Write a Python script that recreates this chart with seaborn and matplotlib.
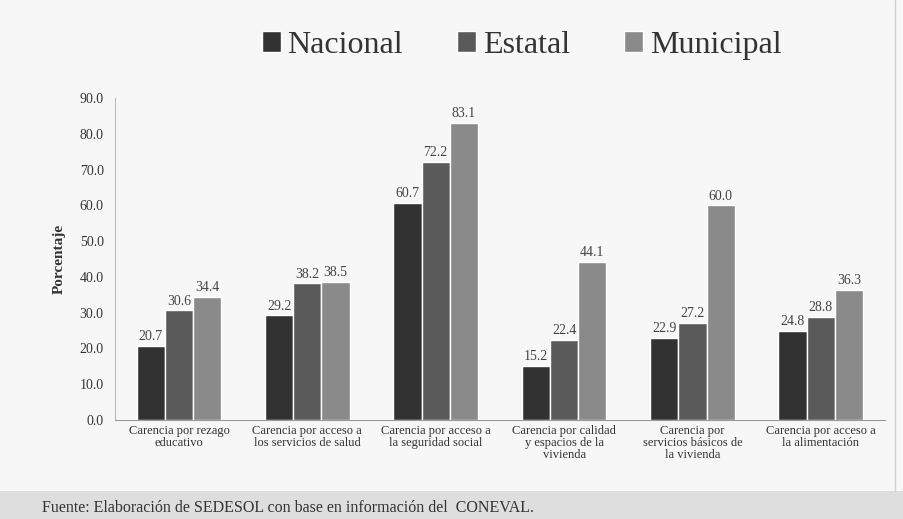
import numpy as np
import pandas as pd
import seaborn as sns
import matplotlib.pyplot as plt
from matplotlib.patches import Rectangle

categorias = [
    "Carencia por rezago\neducativo",
    "Carencia por acceso a\nlos servicios de salud",
    "Carencia por acceso a\nla seguridad social",
    "Carencia por calidad\ny espacios de la\nvivienda",
    "Carencia por\nservicios básicos de\nla vivienda",
    "Carencia por acceso a\nla alimentación",
]
nacional = [20.7, 29.2, 60.7, 15.2, 22.9, 24.8]
estatal = [30.6, 38.2, 72.2, 22.4, 27.2, 28.8]
municipal = [34.4, 38.5, 83.1, 44.1, 60.0, 36.3]
series = ["Nacional", "Estatal", "Municipal"]
colores = ["#323232", "#5a5a5a", "#8a8a8a"]

df = pd.DataFrame({
    "categoria": categorias * 3,
    "nivel": [s for s in series for _ in categorias],
    "valor": nacional + estatal + municipal,
})

sns.set_style("white")
plt.rcParams["font.family"] = ["Liberation Serif", "DejaVu Serif"]

fig = plt.figure(figsize=(9.04, 5.19), dpi=100, facecolor="#f7f7f7")
# bottom band with source
fig.patches.append(Rectangle((0, 0), 1, 0.054, transform=fig.transFigure,
                             facecolor="#dedede", edgecolor="none", zorder=0))
fig.add_artist(plt.Line2D([0.99, 0.99], [0.054, 1], color="#d0d0d0", lw=1))

ax = fig.add_axes([0.127, 0.191, 0.852, 0.62])
ax.set_facecolor("#f7f7f7")
sns.barplot(data=df, x="categoria", y="valor", hue="nivel", palette=colores,
            width=0.66, saturation=1, ax=ax, legend=False)

for cont in ax.containers:
    ax.bar_label(cont, fmt="%.1f", fontsize=10, color="#444444", padding=2)

ax.set_ylim(0, 90)
ax.set_yticks(np.arange(0, 91, 10))
ax.set_yticklabels([f"{v:.1f}" for v in np.arange(0, 91, 10)], fontsize=10, color="#333333")
ax.set_xlim(-0.5, len(categorias) - 0.5)
ax.set_xticks(range(len(categorias)))
ax.set_xticklabels(categorias, fontsize=9, color="#333333", linespacing=1.0)
ax.tick_params(axis="x", length=0, pad=4)
ax.set_xticks(np.arange(-0.5, len(categorias), 1), minor=True)
ax.tick_params(axis="x", which="minor", length=4, color="#999999")
ax.tick_params(axis="y", length=0, pad=8)
ax.set_xlabel("")
ax.set_ylabel("Porcentaje", fontsize=11, fontweight="bold", color="#333333", labelpad=10)
for s in ["top", "right"]:
    ax.spines[s].set_visible(False)
ax.spines["left"].set_color("#bbbbbb")
ax.spines["bottom"].set_color("#999999")

# legend
handles = [Rectangle((0, 0), 1, 1, facecolor=c) for c in colores]
fig.legend(handles, series, loc="center", bbox_to_anchor=(0.577, 0.913), ncol=3,
           frameon=False, fontsize=23, handlelength=0.6, handleheight=0.6,
           handletextpad=0.2, columnspacing=1.7, labelcolor="#333333")

fig.text(0.046, 0.014, "Fuente: Elaboración de SEDESOL con base en información del  CONEVAL.",
         fontsize=11.5, color="#333333")

fig.savefig("out.png", dpi=100, facecolor=fig.get_facecolor())
